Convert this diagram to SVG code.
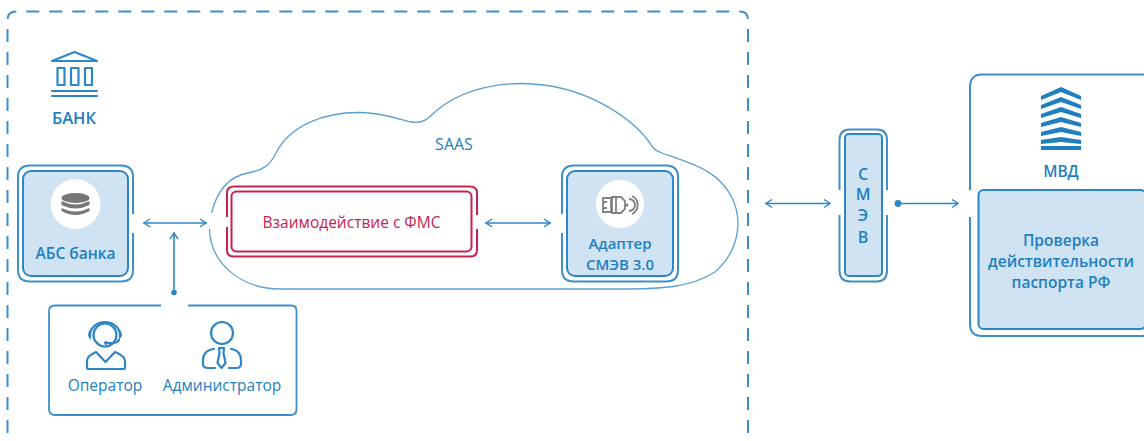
<svg xmlns="http://www.w3.org/2000/svg" width="1144" height="441" viewBox="0 0 1144 441">
<style>
text{font-family:"Open Sans","Liberation Sans",sans-serif;fill:#1f7fc1;text-anchor:middle}
.b{font-weight:600}
.l{fill:none;stroke:#2f86c6;stroke-width:1.6;stroke-linecap:round;stroke-linejoin:round}
.o{fill:none;stroke:#3c8fcb;stroke-width:2}
.f{fill:#cfe3f2;stroke:#2f86c6;stroke-width:2}
.c{fill:none;stroke:#5ba0d3;stroke-width:1.3}
.r{fill:none;stroke:#c4234f;stroke-width:2}
.g{fill:none;stroke:#808080;stroke-width:1.8}
.i{fill:none;stroke:#2f86c6;stroke-width:2.200;stroke-linecap:round;stroke-linejoin:round}
</style>
<defs>
<marker id="a" markerWidth="10" markerHeight="10" refX="8" refY="5" orient="auto-start-reverse" markerUnits="userSpaceOnUse"><path d="M2 1L8 5L2 9" fill="none" stroke="#2f86c6" stroke-width="1.4"/></marker>
</defs>
<g id="bank-boundary"><path d="M7.500 433V20Q7.500 11.500 16 11.500H740Q748 11.500 748 20V433" fill="none" stroke="#3c8fcb" stroke-width="2" stroke-dasharray="13 10"/></g>
<g id="cloud"><path class="c" d="M211.500 213C216 195 226 177 248 173C264 170 270 165 276 153C290 125 325 112 360 112.500C385 113 400 120 412 122C423 124 429 118 436 111C458 92 490 83.500 522 83.500C585 84 632 118 650 143C653 149 655 150 662 153C690 163 720 170 733 200C742 220 740 250 715 272C690 288 660 289 620 289H280C240 289 210 262 209.500 229"/><text x="454" y="150" font-size="16">SAAS</text></g>
<g id="bank"><path class="i" d="M52 61L74.500 52L97 61ZM57.500 68H64.500V85H57.500ZM71 68H78.500V85H71ZM85 68H92V85H85Z"/><path class="i" d="M52 91H97M52 96H97"/><text class="b" x="74" y="124" font-size="16.500">БАНК</text></g>
<g id="abs"><path class="o" d="M133 214V177Q133 165.500 121 165.500H30Q18 165.500 18 177V270Q18 281.500 30 281.500H121Q133 281.500 133 270V233"/><rect class="f" x="23" y="171" width="105" height="105" rx="8"/><circle cx="75.500" cy="204" r="25" fill="#fff"/><g fill="#777"><ellipse cx="75.500" cy="198" rx="14" ry="5"/><path d="M61.500 201Q75.500 208 89.500 201V205Q75.500 212 61.500 205ZM61.500 208Q75.500 215 89.500 208V211Q75.500 219 61.500 211Z"/></g><text class="b" x="75.500" y="259" font-size="15.500">АБС банка</text></g>
<g id="fms"><path class="r" d="M477 215V193Q477 186.500 470 186.500H234Q227 186.500 227 193V217M227 227V250Q227 256.500 234 256.500H470Q477 256.500 477 250V229"/><rect class="r" x="231.500" y="191.500" width="240" height="60" rx="5"/><text x="351.500" y="228" font-size="15.500" style="fill:#c4234f">Взаимодействие с ФМС</text></g>
<g id="adapter"><path class="o" d="M562 214V177Q562 165.500 574 165.500H666Q678 165.500 678 177V270Q678 281.500 666 281.500H574Q562 281.500 562 270V233"/><rect class="f" x="567" y="171" width="106" height="105" rx="8"/><circle cx="620" cy="204" r="24" fill="#fff"/><path class="g" d="M603 198H611V212H603ZM603 202H607M603 208H607M612 197H621L625 201V209L621 213H612ZM616 197V213M629 199A6 6 0 0 1 629 211M632 196A10 10 0 0 1 632 214"/><circle cx="627" cy="205" r="1.500" fill="#808080"/><text class="b" x="620" y="249" font-size="15">Адаптер</text><text class="b" x="620" y="269.500" font-size="15">СМЭВ 3.0</text></g>
<g id="smev"><path class="o" d="M887 190V140Q887 129.500 877 129.500H850Q839.500 129.500 839.500 140V190M839.500 215V270Q839.500 281.500 850 281.500H877Q887 281.500 887 270V215"/><rect class="f" x="845" y="134" width="37" height="142" rx="4"/><text class="b" x="863" y="180" font-size="16">С</text><text class="b" x="863" y="200" font-size="16">М</text><text class="b" x="863" y="221" font-size="16">Э</text><text class="b" x="863" y="243" font-size="16">В</text></g>
<g id="mvd"><path class="o" d="M1144 74.500H982Q970 74.500 970 87V190M970 217V324Q970 336 982 336H1144"/><g fill="#1f7fc1"><path d="M1041 96L1061 87L1081 96V100L1061 92L1041 100ZM1041 105L1061 97L1081 105V109L1061 102L1041 109ZM1041 114L1061 107L1081 114V118L1061 112L1041 118ZM1041 123L1061 117L1081 123V127L1061 122L1041 127ZM1041 132L1061 127L1081 132V136L1061 132L1041 136ZM1041 140L1061 137L1081 140V144L1061 142L1041 144ZM1041 146L1061 146L1081 146V150H1041Z"/></g><text class="b" x="1061" y="177" font-size="15.500">МВД</text><rect class="f" x="978.500" y="190" width="167" height="139" rx="5"/><text class="b" x="1061" y="246" font-size="15.500">Проверка</text><text class="b" x="1061" y="267" font-size="15.500">действительности</text><text class="b" x="1061" y="288" font-size="15.500">паспорта РФ</text></g>
<g id="users"><path class="o" style="stroke-width:1.800" d="M161 305.500H55Q49 305.500 49 311V409Q49 415 55 415H291Q296.500 415 296.500 409V311Q296.500 305.500 291 305.500H188"/>
<g id="operator"><circle class="i" cx="105" cy="335" r="11.500"/><path class="i" d="M90 335A15 13 0 0 1 120 335M119 340Q117 344 107 343"/><path d="M91 329Q85 335 91 340ZM119 329Q125 335 119 340Z" fill="#2f86c6"/><circle cx="106" cy="343" r="2" fill="#2f86c6"/><path class="i" d="M87 368V361Q87 356 96 352L105.500 362L115 352Q125 356 125 361V368Q125 369 123 369H89Q87 369 87 368Z"/><text x="105" y="391" font-size="15.500">Оператор</text></g>
<g id="admin"><circle class="i" cx="222" cy="333" r="11"/><path class="i" d="M214 349H213Q203 351 203 360V364Q203 368 208 368H215M231 349H232Q241 351 241 360V364Q241 368 236 368H229M219 348H224L223.500 353L225.500 363L221.500 368L217.500 363L219.500 353Z"/><text x="222" y="391" font-size="15.500">Администратор</text></g></g>
<g id="connectors" class="l" fill="none">
<path d="M144 223H206" marker-start="url(#a)" marker-end="url(#a)"/>
<path d="M174 233V292" marker-start="url(#a)"/><circle cx="174" cy="292.500" r="2" fill="#2f86c6"/>
<path d="M486 223H550" marker-start="url(#a)" marker-end="url(#a)"/>
<path d="M766 203.500H830" marker-start="url(#a)" marker-end="url(#a)"/>
<path d="M898 203.500H958" marker-end="url(#a)"/><circle cx="898" cy="203.500" r="2.600" fill="#2f86c6"/>
</g>
</svg>
